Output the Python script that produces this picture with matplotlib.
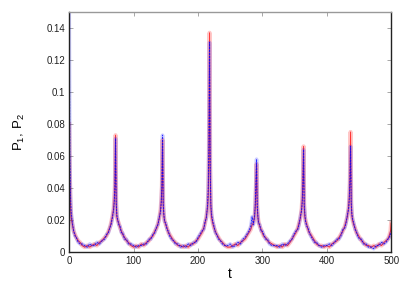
import numpy as np
import matplotlib.pyplot as plt

plt.rcParams['font.family'] = ['Liberation Sans', 'DejaVu Sans']
plt.rcParams['mathtext.fontset'] = 'custom'
plt.rcParams['mathtext.rm'] = 'Liberation Sans'
plt.rcParams['mathtext.it'] = 'Liberation Sans'

# values, one block per period (peak included)
tA = [0, 1, 2, 3, 5, 7, 9, 11, 14, 17, 20, 24, 28, 32, 35, 39, 43, 47, 51, 55, 58, 61, 63, 65, 67, 69, 70, 71, 72]
rA = [.080, .045, .030, .022, .017, .013, .011, .009, .007, .006, .004, .003, .004, .003, .004, .005, .004, .006, .007, .009, .010, .013, .015, .018, .022, .027, .033, .042, .073]
bA = [.160, .062, .036, .025, .018, .013, .010, .009, .006, .005, .005, .004, .003, .005, .004, .004, .006, .005, .007, .008, .011, .012, .015, .017, .021, .026, .031, .040, .071]

tB = [73, 74, 75, 77, 79, 81, 83, 86, 89, 92, 96, 100, 104, 108, 112, 116, 120, 124, 127, 130, 133, 136, 138, 140, 142, 143, 144, 145]
rB = [.030, .022, .020, .018, .015, .013, .011, .009, .007, .006, .004, .003, .004, .003, .005, .004, .006, .007, .009, .010, .013, .015, .018, .021, .027, .032, .041, .070]
bB = [.032, .023, .021, .017, .016, .012, .012, .008, .008, .005, .005, .004, .003, .004, .004, .005, .005, .008, .008, .011, .012, .016, .017, .022, .025, .031, .043, .073]

tC = [146, 147, 148, 150, 152, 154, 156, 159, 162, 165, 169, 173, 177, 181, 185, 189, 193, 197, 200, 203, 206, 209, 211, 213, 215, 216, 217, 218]
rC = [.029, .023, .020, .017, .015, .012, .011, .009, .007, .006, .004, .004, .003, .004, .003, .005, .005, .007, .008, .010, .012, .015, .018, .022, .028, .036, .060, .137]
bC = [.031, .024, .019, .018, .014, .013, .010, .008, .007, .005, .005, .003, .004, .003, .005, .004, .006, .006, .009, .011, .013, .014, .019, .021, .030, .040, .070, .131]

tD = [219, 220, 221, 223, 225, 227, 229, 232, 235, 238, 242, 246, 250, 254, 258, 262, 266, 270, 273, 276, 279, 282, 284, 286, 288, 289, 290, 291]
rD = [.050, .028, .022, .018, .015, .013, .011, .009, .007, .006, .004, .003, .003, .004, .005, .004, .006, .007, .008, .010, .012, .014, .017, .018, .022, .028, .040, .055]
bD = [.055, .030, .024, .019, .016, .012, .011, .008, .007, .005, .004, .004, .005, .003, .004, .006, .005, .008, .009, .011, .013, .016, .022, .017, .023, .030, .045, .058]

tE = [292, 293, 294, 296, 298, 300, 302, 305, 308, 311, 315, 319, 323, 327, 331, 335, 339, 343, 346, 349, 352, 355, 357, 359, 361, 362, 363, 364]
rE = [.028, .022, .019, .016, .014, .012, .010, .009, .007, .006, .005, .004, .003, .004, .003, .005, .004, .006, .008, .010, .012, .015, .018, .021, .027, .033, .045, .066]
bE = [.030, .023, .018, .017, .013, .013, .011, .008, .008, .005, .004, .004, .004, .003, .005, .004, .005, .007, .008, .011, .013, .014, .017, .022, .026, .031, .043, .064]

tF = [365, 366, 367, 369, 371, 373, 375, 378, 381, 384, 388, 392, 396, 400, 404, 408, 412, 416, 419, 422, 425, 428, 430, 432, 434, 435, 436, 437]
rF = [.028, .022, .020, .017, .014, .012, .011, .009, .007, .005, .004, .004, .003, .004, .003, .005, .006, .007, .009, .011, .013, .016, .019, .022, .028, .034, .046, .075]
bF = [.030, .024, .019, .016, .015, .012, .010, .008, .006, .006, .004, .003, .004, .004, .005, .004, .006, .008, .008, .010, .014, .015, .018, .023, .027, .033, .044, .066]

tG = [438, 439, 440, 442, 444, 446, 448, 451, 454, 457, 461, 465, 469, 473, 477, 481, 485, 489, 492, 495, 497, 499, 500]
rG = [.030, .023, .020, .017, .015, .012, .011, .009, .007, .006, .004, .004, .003, .004, .003, .005, .004, .006, .007, .008, .010, .013, .018]
bG = [.032, .024, .021, .018, .014, .013, .010, .008, .008, .005, .005, .003, .003, .002, .004, .004, .006, .005, .006, .008, .009, .011, .012]

t = np.concatenate([tA, tB, tC, tD, tE, tF, tG])
p1 = np.concatenate([rA, rB, rC, rD, rE, rF, rG])
p2 = np.concatenate([bA, bB, bC, bD, bE, bF, bG])

xticks = [0, 100, 200, 300, 400, 500]
yticks = [0, 0.02, 0.04, 0.06, 0.08, 0.1, 0.12, 0.14]
ylabels = ['0', '0.02', '0.04', '0.06', '0.08', '0.1', '0.12', '0.14']

fig = plt.figure(figsize=(4.07, 2.85), dpi=100)
ax = fig.add_axes([0.170, 0.116, 0.791, 0.842])

# fuzzy look: wide faint line under a thin one
ax.plot(t, p1, color='red', lw=3.0, alpha=0.22)
ax.plot(t, p1, color='red', lw=0.7, alpha=0.75)
ax.plot(t, p2, color='blue', lw=2.6, alpha=0.2)
ax.plot(t, p2, color='blue', lw=0.7, alpha=0.8, ls=(0, (2, 1)))

ax.set_xlim(0, 500)
ax.set_ylim(0, 0.15)
ax.set_xticks(xticks)
ax.set_yticks(yticks)
ax.set_yticklabels(ylabels)
ax.tick_params(direction='in', length=3, width=0.6, color='#999999',
               labelsize=7, labelcolor='#222222', top=True, right=True, pad=3)
for s in ['left', 'bottom', 'right']:
    ax.spines[s].set_linewidth(1.0)
    ax.spines[s].set_color('#222222')
ax.spines['top'].set_color('#999999')
ax.spines['top'].set_linewidth(1.0)

ax.set_xlabel('t', fontsize=10, labelpad=1)
ax.set_ylabel(r'$\mathrm{P_1,\,P_2}$', fontsize=9.5, labelpad=14)

fig.savefig('out.png', dpi=100)
